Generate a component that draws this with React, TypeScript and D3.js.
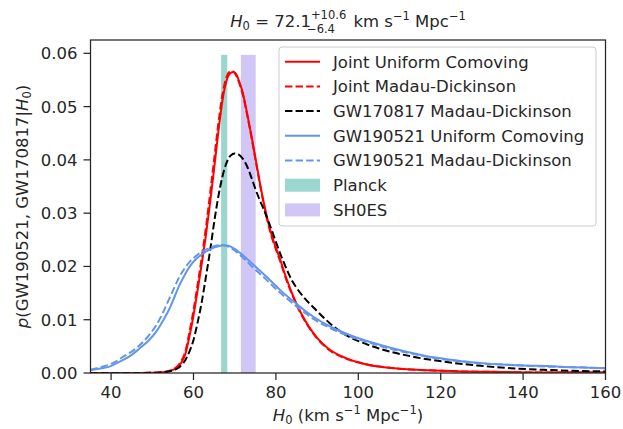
import React from "react";
import * as d3 from "d3";

type Pt = [number, number];

const jointUniform: Pt[] = [[35,0],[45,0],[50,0.00003],[52,0.0001],[54,0.0003],[55,0.0006],[56,0.001],[57,0.0019],[58,0.0035],[59,0.0068],[60,0.0108],[61,0.0155],[62,0.0205],[63,0.0258],[64,0.0318],[65,0.0383],[66,0.0450],[67,0.0510],[68,0.0548],[69,0.0563],[69.7,0.0565],[70.5,0.0559],[71.2,0.0545],[72,0.0525],[73,0.0488],[74,0.0448],[75,0.0405],[76,0.0362],[77,0.0322],[78,0.0287],[79,0.0258],[80,0.0235],[81,0.0214],[82,0.0190],[83,0.0168],[84,0.0148],[85,0.0130],[86,0.0114],[88,0.0087],[90,0.0066],[93,0.0044],[97,0.0028],[101,0.0018],[105,0.0012],[110,0.0008],[117,0.0005],[125,0.0003],[135,0.0002],[145,0.0001],[160,0.0001]];

const jointMadau: Pt[] = [[35,0],[45,0],[50,0.00004],[52,0.00012],[54,0.0004],[55,0.0007],[56,0.0012],[57,0.0022],[58,0.0040],[59,0.0076],[60,0.0118],[61,0.0166],[62,0.0217],[63,0.0272],[64,0.0335],[65,0.0400],[66,0.0466],[67,0.0522],[68,0.0555],[69,0.0566],[69.6,0.0566],[70.5,0.0556],[71.2,0.0542],[72,0.0521],[73,0.0485],[74,0.0445],[75,0.0402],[76,0.0359],[77,0.0319],[78,0.0284],[79,0.0255],[80,0.0232],[81,0.0211],[82,0.0187],[83,0.0165],[84,0.0146],[85,0.0128],[86,0.0112],[88,0.0086],[90,0.0065],[93,0.0043],[97,0.0027],[101,0.0018],[105,0.0012],[110,0.0008],[117,0.0005],[125,0.0003],[135,0.0002],[145,0.0001],[160,0.0001]];

const gw170817Madau: Pt[] = [[35,0],[45,0],[50,0.00003],[52,0.0001],[54,0.0003],[56,0.0008],[57,0.0014],[58,0.0024],[59,0.0040],[60,0.0062],[61,0.0095],[62,0.0133],[63,0.0180],[64,0.0228],[65,0.0282],[66,0.0330],[67,0.0368],[68,0.0394],[69,0.0408],[70,0.0412],[71,0.0410],[72,0.0402],[73,0.0388],[74,0.0368],[75,0.0346],[76,0.0326],[77,0.0308],[78,0.0288],[79,0.0268],[80,0.0246],[81,0.0225],[82,0.0206],[83,0.0188],[84,0.0172],[85,0.0160],[87,0.0140],[89,0.0124],[93,0.0094],[97,0.0071],[101,0.0057],[105,0.0046],[113,0.0031],[121,0.0021],[129,0.0014],[137,0.0009],[145,0.0006],[152,0.0004],[160,0.0003]];

const gw190521Uniform: Pt[] = [[35,0.0005],[37,0.0008],[39.6,0.0012],[41,0.0017],[42.8,0.0024],[45,0.0034],[46.9,0.0046],[49,0.0060],[51,0.0078],[52.5,0.0097],[54.2,0.0121],[55.5,0.0145],[56.6,0.0165],[58,0.0186],[59.1,0.0200],[60.5,0.0213],[62.3,0.0224],[64,0.0232],[66,0.0238],[67.2,0.0240],[68.5,0.0239],[70,0.0233],[71.2,0.0226],[73,0.0214],[75.3,0.0198],[77,0.0186],[79.3,0.0169],[81,0.0156],[83.4,0.0140],[85,0.0130],[87,0.0117],[89,0.0106],[93,0.0088],[97.1,0.0074],[101,0.0063],[105.2,0.0053],[109,0.0045],[113.3,0.0037],[117,0.0031],[121.4,0.0026],[125,0.0022],[129.5,0.0019],[135,0.0016],[140,0.0014],[145.7,0.0013],[152,0.0011],[160,0.0009]];

const gw190521Madau: Pt[] = [[35,0.0006],[37,0.0010],[39.6,0.0016],[41,0.0021],[42.8,0.0030],[45,0.0040],[46.9,0.0052],[49,0.0069],[51,0.0090],[52.5,0.0112],[54.2,0.0141],[55.5,0.0163],[56.6,0.0181],[58,0.0198],[59.1,0.0209],[60.5,0.0219],[62.3,0.0229],[64,0.0235],[66,0.0240],[67.2,0.0240],[68.5,0.0237],[70,0.0230],[71.2,0.0222],[73,0.0209],[75.3,0.0192],[77,0.0180],[79.3,0.0163],[81,0.0151],[83.4,0.0135],[85,0.0125],[87,0.0113],[89,0.0102],[93,0.0085],[97.1,0.0071],[101,0.0061],[105.2,0.0051],[109,0.0043],[113.3,0.0036],[117,0.0030],[121.4,0.0025],[125,0.0022],[129.5,0.0018],[135,0.0016],[140,0.0014],[145.7,0.0012],[152,0.0011],[160,0.0009]];

const plancksBand: [number, number] = [66.7, 68.2];
const shoesBand: [number, number] = [71.5, 75.1];
const bandTop = 0.0597;

const xTicks = [40, 60, 80, 100, 120, 140, 160];
const yTicks = [0, 0.01, 0.02, 0.03, 0.04, 0.05, 0.06];

const series = [
  { name: "Joint Uniform Comoving", data: jointUniform, color: "#ff0000", dash: "" },
  { name: "Joint Madau-Dickinson", data: jointMadau, color: "#ff0000", dash: "7.4,3.2" },
  { name: "GW170817 Madau-Dickinson", data: gw170817Madau, color: "#000000", dash: "7.4,3.2" },
  { name: "GW190521 Uniform Comoving", data: gw190521Uniform, color: "#6495ed", dash: "" },
  { name: "GW190521 Madau-Dickinson", data: gw190521Madau, color: "#6495ed", dash: "7.4,3.2" },
];
const bands = [
  { name: "Planck", range: plancksBand, color: "#9bd7cf" },
  { name: "SH0ES", range: shoesBand, color: "#d1c7f6" },
];

const W = 623, H = 429;
const L = 90.5, R = 605.5, T = 40, B = 373;
const FONT = "DejaVu Sans";
const TXT = "#262626";

export default function App() {
  const x = d3.scaleLinear().domain([35, 160]).range([L, R]);
  const y = d3.scaleLinear().domain([0, 0.0625]).range([B, T]);
  const line = d3.line<Pt>().x(d => x(d[0])).y(d => y(d[1])).curve(d3.curveMonotoneX);
  const fs = 16.5, sfs = 11.5;
  const w1 = 3.064 * sfs, w2 = 2.428 * sfs;
  const legX = 279, legY = 47, legW = 317, legH = 179;
  const rowY = (i: number) => 61.7 + i * 24.7;
  const tx = (L + R) / 2;
  return (
    <svg width={W} height={H} style={{ position: "absolute", left: 0, top: 0, background: "#fff" }} fontFamily={FONT}>
      <rect x={0} y={0} width={W} height={H} fill="#fff" />
      <defs>
        <clipPath id="plot"><rect x={L} y={T} width={R - L} height={B - T} /></clipPath>
      </defs>
      <g clipPath="url(#plot)">
        {bands.map(b => (
          <rect key={b.name} x={x(b.range[0])} y={y(bandTop)} width={x(b.range[1]) - x(b.range[0])} height={y(0) - y(bandTop)} fill={b.color} />
        ))}
        {series.map(s => (
          <path key={s.name} d={line(s.data) || ""} fill="none" stroke={s.color} strokeWidth={2} strokeDasharray={s.dash || undefined} />
        ))}
      </g>
      {/* frame */}
      <rect x={L} y={T} width={R - L} height={B - T} fill="none" stroke={TXT} strokeWidth={1.25} />
      {/* x ticks */}
      {xTicks.map(t => (
        <g key={t}>
          <line x1={x(t)} x2={x(t)} y1={B} y2={B + 7} stroke={TXT} strokeWidth={1.25} />
          <text x={x(t)} y={B + 25} textAnchor="middle" fontSize={fs} fill={TXT}>{t}</text>
        </g>
      ))}
      {yTicks.map(t => (
        <g key={t}>
          <line x1={L - 7} x2={L} y1={y(t)} y2={y(t)} stroke={TXT} strokeWidth={1.25} />
          <text x={L - 13} y={y(t)} dy="0.36em" textAnchor="end" fontSize={fs} fill={TXT}>{t.toFixed(2)}</text>
        </g>
      ))}
      {/* title: main text with stacked super/subscript drawn as separate texts */}
      <text x={tx} y={27} textAnchor="middle" fontSize={fs} fill={TXT}>
        <tspan fontStyle="italic">H</tspan>
        <tspan fontSize={sfs} dy={3}>0</tspan>
        <tspan dy={-3}>{" = 72.1"}</tspan>
        <tspan fontSize={sfs} dy={-8}>+10.6</tspan>
        <tspan dx={2} dy={8}>{" km s"}</tspan>
        <tspan fontSize={sfs} dy={-7}>−1</tspan>
        <tspan dy={7}>{" Mpc"}</tspan>
        <tspan fontSize={sfs} dy={-7}>−1</tspan>
      </text>
      <text x={tx - 41} y={33} fontSize={sfs} fill={TXT} textAnchor="start">−6.4</text>
      {/* x label */}
      <text x={tx} y={421} textAnchor="middle" fontSize={fs} fill={TXT}>
        <tspan fontStyle="italic">H</tspan>
        <tspan fontSize={sfs} dy={3}>0</tspan>
        <tspan dy={-3}>{" (km s"}</tspan>
        <tspan fontSize={sfs} dy={-7}>−1</tspan>
        <tspan dy={7}>{" Mpc"}</tspan>
        <tspan fontSize={sfs} dy={-7}>−1</tspan>
        <tspan dy={7}>)</tspan>
      </text>
      {/* y label */}
      <text transform={`translate(28,${(T + B) / 2}) rotate(-90)`} textAnchor="middle" fontSize={fs} fill={TXT}>
        <tspan fontStyle="italic">p</tspan>
        <tspan>(GW190521, GW170817|</tspan>
        <tspan fontStyle="italic">H</tspan>
        <tspan fontSize={sfs} dy={3}>0</tspan>
        <tspan dy={-3}>)</tspan>
      </text>
      {/* legend */}
      <rect x={legX} y={legY} width={legW} height={legH} rx={3} fill="#fff" fillOpacity={0.8} stroke="#cccccc" strokeWidth={1} />
      {series.map((s, i) => (
        <g key={s.name}>
          <line x1={285} x2={320} y1={rowY(i)} y2={rowY(i)} stroke={s.color} strokeWidth={2} strokeDasharray={s.dash || undefined} />
          <text x={333} y={rowY(i)} dy="0.36em" fontSize={fs} fill={TXT}>{s.name}</text>
        </g>
      ))}
      {bands.map((b, j) => (
        <g key={b.name}>
          <rect x={285} y={rowY(5 + j) - 6.5} width={35} height={13} fill={b.color} />
          <text x={333} y={rowY(5 + j)} dy="0.36em" fontSize={fs} fill={TXT}>{b.name}</text>
        </g>
      ))}
    </svg>
  );
}
